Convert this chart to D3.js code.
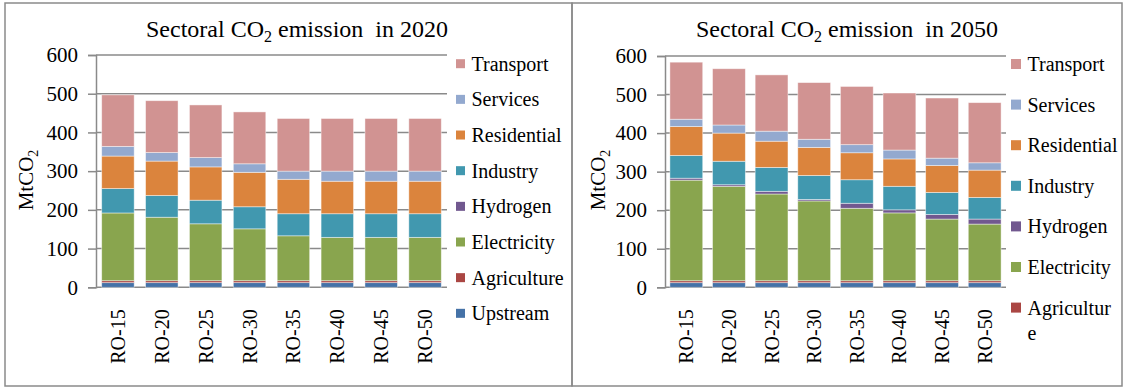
<!DOCTYPE html>
<html>
<head>
<meta charset="utf-8">
<script src="https://cdn.jsdelivr.net/npm/d3@7"></script>
<style>
  html, body { margin: 0; padding: 0; background: #fff; }
  svg { display: block; }
  svg text { font-family: "Liberation Serif", "Times New Roman", serif !important; }
</style>
</head>
<body>
<svg id="chart" width="1125" height="387"></svg>
<script>
// Scenario categories on the x axis
const categories = ["RO-15", "RO-20", "RO-25", "RO-30", "RO-35", "RO-40", "RO-45", "RO-50"];

// Sectors, stacked from the bottom up
const sectors = ["Upstream", "Agriculture", "Electricity", "Hydrogen", "Industry", "Residential", "Services", "Transport"];
const sectorColors = ["#4572A7", "#AA4643", "#89A54E", "#71588F", "#4198AF", "#DB843D", "#93A9CF", "#D19392"];

// y axis ticks (MtCO2)
const yTicks = [0, 100, 200, 300, 400, 500, 600];

// Sectoral CO2 emissions in 2020, MtCO2
const upstream2020    = [12, 12, 12, 12, 12, 12, 12, 12];
const agriculture2020 = [5, 5, 5, 5, 5, 5, 5, 5];
const electricity2020 = [175, 164, 147, 134, 116, 112, 112, 112];
const hydrogen2020    = [0, 0, 0, 0, 0, 0, 0, 0];
const industry2020    = [63, 56, 61, 57, 57, 61, 61, 61];
const residential2020 = [84, 89, 86, 89, 89, 84, 84, 84];
const services2020    = [25, 22, 24, 22, 21, 26, 26, 26];
const transport2020   = [133, 134, 136, 134, 136, 136, 136, 136];

// Sectoral CO2 emissions in 2050, MtCO2
const upstream2050    = [12, 12, 12, 12, 12, 12, 12, 12];
const agriculture2050 = [5, 5, 5, 5, 5, 5, 5, 5];
const electricity2050 = [261, 245, 225, 207, 188, 176, 160, 147];
const hydrogen2050    = [5, 4, 7, 4, 13, 8, 12, 13];
const industry2050    = [59, 61, 62, 62, 61, 61, 57, 56];
const residential2050 = [75, 73, 68, 73, 70, 71, 70, 71];
const services2050    = [19, 21, 26, 21, 21, 23, 19, 19];
const transport2050   = [148, 146, 146, 147, 151, 148, 156, 156];

const series2020 = [upstream2020, agriculture2020, electricity2020, hydrogen2020,
                    industry2020, residential2020, services2020, transport2020];
const series2050 = [upstream2050, agriculture2050, electricity2050, hydrogen2050,
                    industry2050, residential2050, services2050, transport2050];

// Build row objects for d3.stack
function toRows(series) {
  return categories.map((c, i) => {
    const row = { category: c };
    sectors.forEach((s, k) => { row[s] = series[k][i]; });
    return row;
  });
}

const svg = d3.select("#chart");
const GRID = "#8a8a8a";
const SERIF = "Liberation Serif";

function drawPanel(p) {
  // frame
  svg.append("rect")
    .attr("x", p.frame[0]).attr("y", p.frame[1])
    .attr("width", p.frame[2] - p.frame[0]).attr("height", p.frame[3] - p.frame[1])
    .attr("fill", "none").attr("stroke", GRID).attr("stroke-width", 1.5);

  const x = d3.scaleBand().domain(categories)
    .range([p.x0, p.x1]).paddingInner(p.pad).paddingOuter(p.pad / 2);
  const y = d3.scaleLinear().domain([0, 600]).range([p.yBottom, p.yTop]);

  // horizontal gridlines
  svg.append("g").selectAll("line").data(yTicks).join("line")
    .attr("x1", p.x0).attr("x2", p.x1)
    .attr("y1", d => y(d)).attr("y2", d => y(d))
    .attr("stroke", GRID).attr("stroke-width", 1.5);

  // stacked bars
  const stacked = d3.stack().keys(sectors)(toRows(p.series));
  svg.append("g").selectAll("g").data(stacked).join("g")
    .attr("fill", (d, i) => sectorColors[i])
    .selectAll("rect").data(d => d.filter(v => v[1] - v[0] > 0)).join("rect")
      .attr("x", d => x(d.data.category))
      .attr("width", x.bandwidth())
      .attr("y", d => y(d[1]))
      .attr("height", d => y(d[0]) - y(d[1]))
      .attr("stroke", "rgba(255,255,255,0.55)")
      .attr("stroke-width", 0.8);

  // y axis
  const yAxis = svg.append("g")
    .attr("transform", `translate(${p.x0},0)`)
    .call(d3.axisLeft(y).tickValues(yTicks).tickSize(8).tickPadding(10).tickFormat(d3.format("d")))
    .attr("font-family", SERIF);
  yAxis.select(".domain").attr("stroke", GRID).attr("stroke-width", 1.5);
  yAxis.selectAll(".tick line").attr("stroke", GRID).attr("stroke-width", 1.5);
  yAxis.selectAll(".tick text")
    .attr("font-family", SERIF).attr("font-size", 21).attr("fill", "#000");

  // x axis with vertical labels
  const xAxis = svg.append("g")
    .attr("transform", `translate(0,${p.yBottom})`)
    .call(d3.axisBottom(x).tickSize(0))
    .attr("font-family", SERIF);
  xAxis.select(".domain").remove();
  xAxis.selectAll(".tick text")
    .attr("font-family", SERIF).attr("font-size", 20).attr("fill", "#000")
    .attr("transform", "rotate(-90)")
    .attr("text-anchor", "end")
    .attr("x", -22).attr("y", 0).attr("dy", "0.35em");

  // title
  const t = svg.append("text")
    .attr("x", p.titleX).attr("y", p.titleY)
    .attr("text-anchor", "middle").attr("font-size", 24).attr("fill", "#000");
  t.append("tspan").text("Sectoral CO");
  t.append("tspan").attr("font-size", 16).attr("dy", 5).text("2");
  t.append("tspan").attr("dy", -5).text(" emission \u00A0in " + p.year);

  // y axis title
  const a = svg.append("text")
    .attr("transform", `translate(${p.axisTitleX},${p.axisTitleY}) rotate(-90)`)
    .attr("text-anchor", "middle").attr("dy", "0.35em")
    .attr("font-size", 21).attr("fill", "#000");
  a.append("tspan").text("MtCO");
  a.append("tspan").attr("font-size", 14).attr("dy", 5).text("2");

  // legend, Transport at the top; entries that run past the frame are dropped
  const legendOrder = sectors.map((s, i) => i).reverse().slice(0, p.legItems);
  const lg = svg.append("g");
  legendOrder.forEach((k, j) => {
    const cy = p.legY0 + j * p.legStep;
    lg.append("rect")
      .attr("x", p.legSqX).attr("y", cy - p.legSq / 2)
      .attr("width", p.legSq).attr("height", p.legSq)
      .attr("fill", sectorColors[k]);
    const lines = (p.legendBreaks && p.legendBreaks[sectors[k]]) || [sectors[k]];
    const tx = lg.append("text")
      .attr("x", p.legTextX).attr("y", cy)
      .attr("font-size", 20).attr("fill", "#000");
    lines.forEach((ln, li) => {
      tx.append("tspan").attr("x", p.legTextX).attr("dy", li === 0 ? "0.35em" : 25.5).text(ln);
    });
  });
}

drawPanel({
  year: 2020, series: series2020,
  frame: [5, 3, 572, 386],
  x0: 96, x1: 447, yTop: 55, yBottom: 287.3, pad: 0.26,
  titleX: 297, titleY: 37,
  axisTitleX: 26, axisTitleY: 180,
  legSqX: 456, legSq: 9, legTextX: 471.5, legY0: 63.7, legStep: 35.66, legItems: 8
});

drawPanel({
  year: 2050, series: series2050,
  frame: [572, 3, 1122, 386],
  x0: 665, x1: 1006, yTop: 56, yBottom: 287.3, pad: 0.23,
  titleX: 847, titleY: 37,
  axisTitleX: 598, axisTitleY: 180,
  legSqX: 1011, legSq: 10, legTextX: 1027.5, legY0: 64, legStep: 40.6, legItems: 7,
  legendBreaks: { Agriculture: ["Agricultur", "e"] }
});
</script>
</body>
</html>
